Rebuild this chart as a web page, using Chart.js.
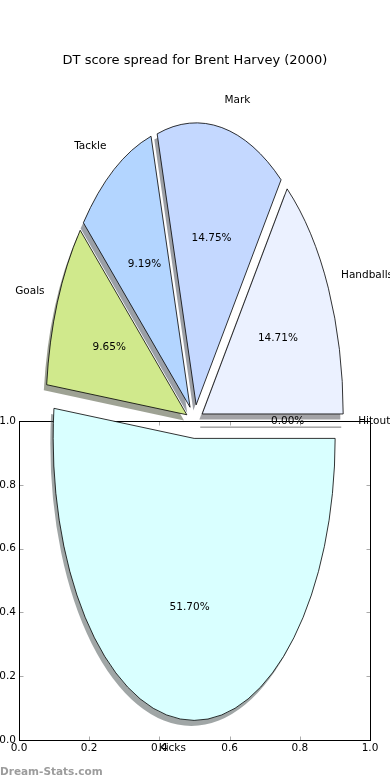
<!DOCTYPE html>
<html>
<head>
<meta charset="utf-8">
<script src="https://cdn.jsdelivr.net/npm/chart.js@4.4.1/dist/chart.umd.min.js"></script>
<style>
  html, body { margin: 0; padding: 0; background: #fff; }
  #wrap { position: relative; width: 390px; height: 780px; }
  #wrap canvas { position: absolute; left: 0; top: 0; }
</style>
</head>
<body>
<div id="wrap">
  <canvas id="grafica-ejes" width="390" height="780"></canvas>
  <canvas id="grafica-pastel" width="390" height="780"></canvas>
</div>
<script>
// Datos
const titulo = "DT score spread for Brent Harvey (2000)";
const categorias = ["Handballs", "Mark", "Tackle", "Goals", "Kicks", "Hitout"];
const valores = [14.71, 14.75, 9.19, 9.65, 51.70, 0.00];
const colores = ["#ebf1ff", "#c4d8ff", "#b3d5ff", "#d0e98c", "#d9ffff", "#ffffff"];
const ticksEjes = [0, 0.2, 0.4, 0.6, 0.8, 1.0];
const marcaAgua = "Dream-Stats.com";

// geometria del pastel (elipse, como en matplotlib sin aspecto igual)
const CX = 194.6, CY = 421.5, RX = 141, RY = 282;
const EXPLOTA = 0.06, SOMBRA = 0.02, DIST_ETIQ = 1.1, DIST_PCT = 0.6;
const FUENTE = '"DejaVu Sans", sans-serif';

const total = valores.reduce((a, b) => a + b, 0);

function sombraDe(hex) {
  const n = parseInt(hex.slice(1), 16);
  const r = (n >> 16) & 255, g = (n >> 8) & 255, b = n & 255;
  return `rgba(${Math.round(r * 0.3)},${Math.round(g * 0.3)},${Math.round(b * 0.3)},0.5)`;
}

// lleva el arco del circulo de chart.js a la elipse, con su desplazamiento
function aplicarElipse(ctx, arco, dx, dy) {
  const R = arco.outerRadius;
  const mid = (arco.startAngle + arco.endAngle) / 2;
  ctx.translate(CX, CY);
  ctx.scale(RX / R, RY / R);
  ctx.translate(-arco.x, -arco.y);
  ctx.translate(Math.cos(mid) * EXPLOTA * R + dx * R, Math.sin(mid) * EXPLOTA * R + dy * R);
}

function trazarCuna(ctx, arco, dx, dy) {
  ctx.save();
  aplicarElipse(ctx, arco, dx, dy);
  ctx.beginPath();
  ctx.moveTo(arco.x, arco.y);
  ctx.arc(arco.x, arco.y, arco.outerRadius, arco.startAngle, arco.endAngle);
  ctx.closePath();
  ctx.restore();
}

const pastelElipse = {
  id: "pastelElipse",
  beforeDatasetsDraw(chart) {
    const ctx = chart.ctx;
    const arcos = chart.getDatasetMeta(0).data;
    const fondo = chart.data.datasets[0].backgroundColor;
    // sombras primero, debajo de todo
    arcos.forEach((arco, i) => {
      trazarCuna(ctx, arco, -SOMBRA, SOMBRA);
      if (arco.circumference === 0) {
        ctx.strokeStyle = "rgba(0,0,0,0.3)";
        ctx.lineWidth = 1;
        ctx.stroke();
      } else {
        ctx.fillStyle = sombraDe(fondo[i]);
        ctx.fill();
      }
    });
    // cunas
    arcos.forEach(arco => {
      ctx.save();
      aplicarElipse(ctx, arco, 0, 0);
      arco.draw(ctx);
      ctx.restore();
      trazarCuna(ctx, arco, 0, 0);
      ctx.strokeStyle = "#000";
      ctx.lineWidth = 0.8;
      ctx.stroke();
    });
    return false;
  },
  afterDraw(chart) {
    const ctx = chart.ctx;
    const arcos = chart.getDatasetMeta(0).data;
    const etiquetas = chart.data.labels;
    const datos = chart.data.datasets[0].data;
    ctx.save();
    ctx.font = "10.5px " + FUENTE;
    ctx.fillStyle = "#000";
    ctx.textBaseline = "middle";
    arcos.forEach((arco, i) => {
      const mid = (arco.startAngle + arco.endAngle) / 2;
      const c = Math.cos(mid), s = Math.sin(mid);
      const vx = CX + c * EXPLOTA * RX, vy = CY + s * EXPLOTA * RY;
      ctx.textAlign = c > 0 ? "left" : "right";
      ctx.fillText(etiquetas[i], vx + c * DIST_ETIQ * RX, vy + s * DIST_ETIQ * RY);
      ctx.textAlign = "center";
      ctx.fillText((datos[i] / total * 100).toFixed(2) + "%", vx + c * DIST_PCT * RX, vy + s * DIST_PCT * RY);
    });
    ctx.restore();
  }
};

const marcoEjes = {
  id: "marcoEjes",
  afterDraw(chart) {
    const ctx = chart.ctx;
    const a = chart.chartArea;
    const l = Math.round(a.left) + 0.5, r = Math.round(a.right) + 0.5;
    const t = Math.round(a.top) + 0.5, b = Math.round(a.bottom) + 0.5;
    ctx.save();
    // marcas hacia dentro en los cuatro lados
    ctx.strokeStyle = "#aaa";
    ctx.lineWidth = 1;
    ctx.beginPath();
    ticksEjes.forEach(v => {
      const px = Math.round(chart.scales.x.getPixelForValue(v)) + 0.5;
      const py = Math.round(chart.scales.y.getPixelForValue(v)) + 0.5;
      ctx.moveTo(px, b); ctx.lineTo(px, b - 4);
      ctx.moveTo(px, t); ctx.lineTo(px, t + 4);
      ctx.moveTo(l, py); ctx.lineTo(l + 4, py);
      ctx.moveTo(r, py); ctx.lineTo(r - 4, py);
    });
    ctx.stroke();
    ctx.strokeStyle = "#000";
    ctx.strokeRect(l, t, r - l, b - t);
    // marca de agua
    ctx.font = "bold 10.5px " + FUENTE;
    ctx.fillStyle = "#9c9c9c";
    ctx.textAlign = "left";
    ctx.textBaseline = "alphabetic";
    ctx.fillText(marcaAgua, 0, 774.5);
    ctx.restore();
  }
};

const fuenteTicks = { family: FUENTE, size: 10.5 };

new Chart(document.getElementById("grafica-ejes").getContext("2d"), {
  type: "scatter",
  data: { datasets: [{ data: [] }] },
  options: {
    responsive: false,
    animation: false,
    events: [],
    layout: { padding: { left: 0, top: 421, right: 20, bottom: 0 } },
    plugins: { legend: { display: false }, tooltip: { enabled: false } },
    scales: {
      x: {
        type: "linear", min: 0, max: 1,
        afterBuildTicks: s => { s.ticks = ticksEjes.map(v => ({ value: v })); },
        ticks: { callback: v => v.toFixed(1), color: "#000", font: fuenteTicks, padding: 2, maxRotation: 0, autoSkip: false },
        grid: { display: false, drawTicks: false },
        border: { display: false },
        afterFit: s => { s.height = 40; }
      },
      y: {
        type: "linear", min: 0, max: 1,
        afterBuildTicks: s => { s.ticks = ticksEjes.map(v => ({ value: v })); },
        ticks: { callback: v => v.toFixed(1), color: "#000", font: fuenteTicks, padding: 3, autoSkip: false },
        grid: { display: false, drawTicks: false },
        border: { display: false },
        afterFit: s => { s.width = 19; }
      }
    }
  },
  plugins: [marcoEjes]
});

// chart.js gira en sentido horario desde el este: se invierte el orden
const orden = categorias.map((_, i) => i).reverse();

new Chart(document.getElementById("grafica-pastel").getContext("2d"), {
  type: "pie",
  data: {
    labels: orden.map(i => categorias[i]),
    datasets: [{
      data: orden.map(i => valores[i]),
      backgroundColor: orden.map(i => colores[i]),
      borderWidth: 0
    }]
  },
  options: {
    responsive: false,
    animation: false,
    events: [],
    rotation: 90,
    plugins: {
      legend: { display: false },
      tooltip: { enabled: false },
      title: {
        display: true,
        text: titulo,
        color: "#000",
        font: { family: FUENTE, size: 13, weight: "normal" },
        padding: { top: 53, bottom: 10 }
      }
    }
  },
  plugins: [pastelElipse]
});
</script>
</body>
</html>
